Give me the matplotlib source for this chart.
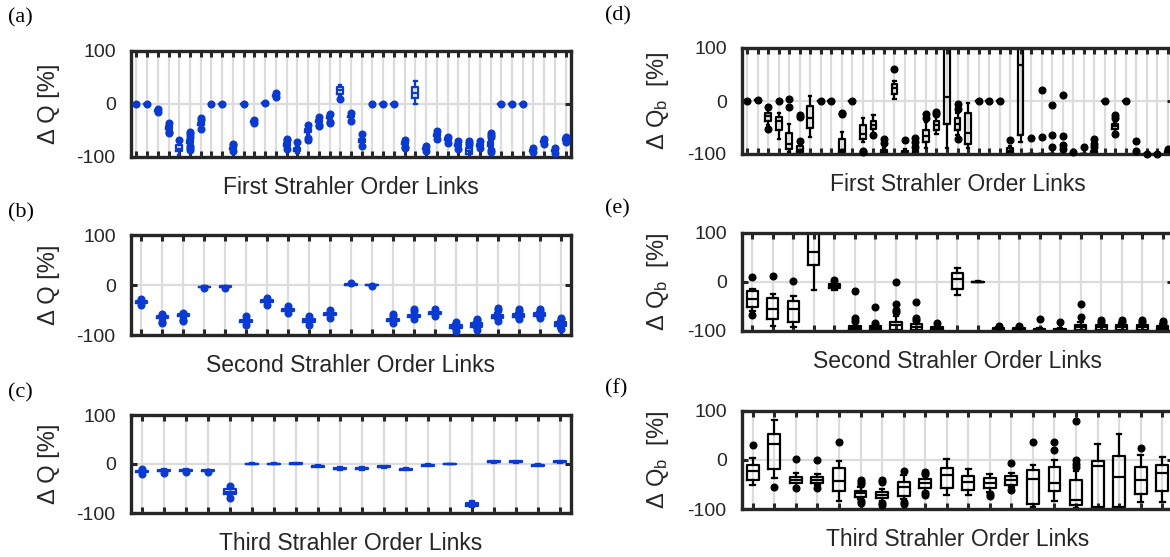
import matplotlib

matplotlib.use("Agg")

import matplotlib.pyplot as plt

plt.rcParams["font.family"] = ["Liberation Sans", "DejaVu Sans"]
plt.rcParams["mathtext.fontset"] = "custom"
plt.rcParams["mathtext.rm"] = "Liberation Sans"
plt.rcParams["mathtext.it"] = "Liberation Sans"

W, H = 1170, 557
BLUE = "#0a3ad6"
BLACK = "#000000"
INK = "#262626"

# box statistics per link: (whisker low, q1, median, q3, whisker high)
stats_a = [
    (0, 0, 0, 0, 0), (0, 0, 0, 0, 0), (-15, -14, -13, -12, -11), (-50, -47, -45, -42, -39),
    (-97, -90, -85, -78, -72), (-78, -75, -72, -69, -65), (-43, -40, -38, -36, -33),
    (0, 0, 0, 0, 0), (0, 0, 0, 0, 0), (-88, -86, -85, -83, -80), (0, 0, 0, 0, 0),
    (-36, -35, -34, -33, -32), (2, 2, 2, 2, 2), (14, 15, 16, 17, 18), (-83, -80, -77, -74, -71),
    (-93, -89, -86, -84, -82), (-58, -54, -51, -48, -44), (-37, -35, -33, -31, -29),
    (-29, -27, -26, -24, -22), (15, 19, 26, 32, 35), (-28, -26, -25, -23, -21),
    (-75, -72, -70, -66, -62), (0, 0, 0, 0, 0), (0, 0, 0, 0, 0), (0, 0, 0, 0, 0),
    (-78, -76, -75, -73, -71), (0, 10, 20, 31, 42), (-88, -86, -85, -84, -82),
    (-63, -61, -60, -58, -56), (-70, -68, -67, -65, -63), (-82, -80, -78, -76, -74),
    (-100, -94, -89, -84, -81), (-82, -80, -78, -76, -74), (-82, -79, -76, -72, -68),
    (0, 0, 0, 0, 0), (0, 0, 0, 0, 0), (0, 0, 0, 0, 0), (-91, -89, -88, -87, -85),
    (-75, -73, -72, -71, -69), (-91, -89, -88, -87, -85), (-70, -68, -67, -65, -63),
]
fliers_a = [
    [0], [0], [-10, -16], [-36, -53, -55], [-68], [-53, -58, -62, -80, -84, -87], [-27, -30, -47],
    [0], [0], [-76, -78, -90], [0], [-31, -37], [2], [13, 20], [-66, -68, -86], [-73],
    [-41, -65, -68], [-26, -40, -43], [-19, -34, -37], [8], [-18, -32], [-58, -80],
    [0], [0], [0], [-68, -82, -84], [], [-80, -90], [-52, -67], [-62, -74], [-70, -86],
    [-70, -74, -78], [-70, -84], [-55, -59, -63, -88, -92], [0], [0], [0], [-84, -92],
    [-67, -77], [-83, -93], [-62, -72],
]

stats_b = [
    (-38, -35, -33, -31, -29), (-70, -66, -64, -62, -60), (-65, -62, -60, -58, -56),
    (-4, -3, -3, -3, -2), (-4, -3, -3, -2, -2), (-77, -74, -72, -69, -66),
    (-36, -34, -32, -30, -28), (-53, -51, -50, -48, -46), (-76, -74, -70, -67, -64),
    (-62, -60, -58, -56, -54), (0, 1, 1, 2, 3), (-1, 0, 0, 0, 1), (-73, -71, -70, -68, -66),
    (-65, -63, -61, -59, -57), (-59, -57, -55, -53, -51), (-88, -85, -82, -80, -78),
    (-86, -83, -79, -76, -73), (-68, -66, -63, -59, -55), (-65, -63, -60, -58, -55),
    (-63, -61, -58, -56, -53), (-85, -82, -78, -74, -71),
]
fliers_b = [
    [-27, -40], [-58, -73, -75], [-55, -69, -72], [-5], [-5], [-61, -79], [-25, -40],
    [-42, -55], [-62, -79], [-50, -65], [4], [-2], [-57, -61, -75], [-48, -52, -68],
    [-48, -62], [-74, -91], [-67, -70, -90], [-45, -50, -71], [-48, -52, -67],
    [-48, -52, -66], [-65, -68, -88],
]

stats_c = [
    (-18, -16, -15, -14, -12), (-17, -15, -14, -13, -11), (-16, -14, -13, -12, -10),
    (-16, -15, -14, -13, -12), (-66, -62, -57, -52, -48), (-1, 0, 1, 1, 2), (-1, 0, 0, 1, 2),
    (0, 1, 1, 2, 3), (-7, -6, -5, -4, -3), (-13, -11, -10, -9, -7), (-12, -10, -9, -8, -6),
    (-8, -7, -6, -5, -4), (-13, -12, -11, -10, -8), (-5, -4, -3, -2, -1), (-1, -1, 0, 0, 0),
    (-88, -86, -83, -79, -75), (3, 4, 5, 6, 7), (3, 4, 5, 6, 7), (-5, -4, -3, -2, -1),
    (3, 4, 5, 6, 7),
]
fliers_c = [
    [-11, -20], [-18], [-17], [-17], [-45, -69], [], [], [], [], [], [], [], [], [], [],
    [], [], [], [], [],
]

stats_d = [
    (0, 0, 0, 0, 0), (2, 2, 2, 2, 2), (-45, -37, -29, -22, -16), (-72, -55, -38, -30, -22),
    (-97, -91, -81, -60, -43), (-100, -97, -92, -84, -80), (-68, -50, -32, -10, 10),
    (0, 0, 0, 0, 0), (0, 0, 0, 0, 0), (-100, -97, -92, -71, -58), (0, 0, 0, 0, 0),
    (-78, -72, -62, -45, -32), (-62, -52, -45, -37, -27), (-100, -98, -95, -92, -88),
    (3, 13, 24, 33, 38), (-100, -99, -97, -94, -90), (-100, -98, -95, -92, -88),
    (-88, -78, -66, -55, -40), (-62, -55, -45, -37, -28), (-88, -44, 8, 120, 150),
    (-65, -55, -44, -33, -22), (-88, -82, -60, -22, -3), (0, 0, 0, 0, 0), (0, 0, 0, 0, 0),
    (0, 0, 0, 0, 0), (-100, -99, -95, -88, -85), (-78, -65, 68, 120, 150),
    (-100, -100, -100, -100, -100), (-100, -100, -100, -100, -100),
    (-100, -100, -100, -100, -100), (-100, -100, -100, -100, -100),
    (-100, -100, -100, -100, -100), (-100, -100, -100, -100, -100),
    (-100, -99, -97, -95, -92), (0, 0, 0, 0, 0), (-58, -53, -48, -44, -40), (0, 0, 0, 0, 0),
    (-100, -100, -100, -100, -100), (-100, -100, -100, -100, -100),
    (-100, -100, -100, -100, -100), (-100, -99, -97, -95, -92),
]
fliers_d = [
    [0], [2], [-12, -52], [0], [3, -12], [-26, -31, -76], [], [0], [0], [-22, -25], [0],
    [-95, -97], [-65], [-72, -80], [60], [-74], [-70, -78, -86], [-25, -32], [-20, -24],
    [], [-6, -15, -71], [], [0], [0], [0], [-74], [], [-70], [20, -68], [-7, -64, -86],
    [12, -66, -83, -90], [-97], [-86], [-71, -81, -87], [0], [-27, -33, -63], [0],
    [-75, -95], [-100], [-100], [-90],
]

stats_e = [
    (-60, -51, -36, -18, -14), (-90, -77, -56, -34, -25), (-93, -82, -56, -39, -30),
    (-17, 34, 60, 120, 150), (-16, -13, -8, -4, 0), (-100, -98, -95, -90, -85),
    (-100, -98, -95, -90, -87), (-100, -99, -88, -82, -70), (-100, -99, -92, -86, -80),
    (-100, -99, -96, -93, -90), (-28, -15, 5, 17, 28), (-1, 0, 0, 0, 1),
    (-100, -99, -97, -95, -92), (-100, -99, -96, -94, -92), (-100, -99, -98, -97, -95),
    (-100, -99, -98, -97, -95), (-100, -99, -93, -88, -83), (-100, -98, -93, -88, -84),
    (-100, -98, -93, -88, -84), (-100, -98, -93, -88, -84), (-100, -98, -95, -90, -86),
]
fliers_e = [
    [10, -68], [12], [1], [], [3], [-19, -75, -80], [-51, -85], [-1, -46, -58, -62],
    [-41, -75, -78], [-84], [], [], [-90], [-90], [-77], [-82], [-45, -73], [-78, -82],
    [-78, -82], [-78, -82], [-80, -84],
]

stats_f = [
    (-52, -42, -22, -10, 3), (-36, -19, 32, 53, 82), (-55, -48, -41, -35, -26),
    (-52, -48, -42, -35, -28), (-83, -64, -43, -17, -3), (-80, -75, -68, -63, -55),
    (-83, -78, -72, -66, -60), (-80, -74, -56, -45, -30), (-65, -58, -48, -38, -30),
    (-72, -57, -30, -16, 1), (-72, -62, -45, -33, -19), (-65, -58, -47, -36, -29),
    (-55, -51, -41, -33, -26), (-96, -89, -39, -20, -10), (-84, -64, -47, -14, 0),
    (-97, -92, -81, -41, -22), (-98, -96, -13, -2, 33), (-98, -96, -34, 7, 53),
    (-85, -70, -41, -14, 9), (-85, -64, -27, -11, 5),
]
fliers_f = [
    [31], [-55], [2, -57], [0, -58], [36], [-42, -46, -49, -84, -88], [-42, -46, -87, -91],
    [-22, -85, -90], [-24, -28, -68, -72], [], [], [-70, -74], [-7, -61], [37], [37, 20],
    [80, 0, -9, -14], [], [], [24], [],
]

# tag, stats, fliers, colour, x label, axes box in px (left, right, top, bottom), tag y
PANELS = [
    ("(a)", stats_a, fliers_a, BLUE, "First Strahler Order Links", (131, 571, 50.5, 156.7), 18),
    ("(b)", stats_b, fliers_b, BLUE, "Second Strahler Order Links", (131, 571, 235, 335), 213),
    ("(c)", stats_c, fliers_c, BLUE, "Third Strahler Order Links", (131, 571, 415, 513), 393),
    ("(d)", stats_d, fliers_d, BLACK, "First Strahler Order Links", (742, 1173, 48, 154), 16),
    ("(e)", stats_e, fliers_e, BLACK, "Second Strahler Order Links", (742, 1173, 232.7, 330.7), 209),
    ("(f)", stats_f, fliers_f, BLACK, "Third Strahler Order Links", (742, 1173, 410.7, 509), 389),
]


def px_rect(x0, x1, top, bottom):
    return [x0 / W, 1 - bottom / H, (x1 - x0) / W, (bottom - top) / H]


def draw_panel(fig, tag, stats, fliers, color, xlabel, box, tag_y):
    ax = fig.add_axes(px_rect(*box))
    n = len(stats)
    pos = list(range(1, n + 1))
    bxp_stats = [
        dict(whislo=s[0], q1=s[1], med=s[2], q3=s[3], whishi=s[4], fliers=f)
        for s, f in zip(stats, fliers)
    ]
    lw = 1.6
    arts = ax.bxp(
        bxp_stats,
        positions=pos,
        widths=0.55,
        capwidths=0.22,
        manage_ticks=False,
        boxprops=dict(color=color, lw=lw),
        medianprops=dict(color=color, lw=lw),
        whiskerprops=dict(color=color, lw=lw),
        capprops=dict(color=color, lw=lw),
        flierprops=dict(marker="o", markerfacecolor=color, markeredgecolor=color,
                        markersize=4.8, linestyle="none"),
    )
    for fl in arts["fliers"]:
        fl.set_clip_on(False)
        fl.set_zorder(4)

    ax.set_xlim(0.5, n + 0.5)
    ax.set_ylim(-100, 100)
    ax.set_xticks(pos)
    ax.set_yticks([-100, 0, 100])
    ax.set_yticklabels(["-100", "0", "100"])
    ax.tick_params(axis="x", labelbottom=False)
    ax.tick_params(direction="in", top=True, right=True, length=4, width=2.2,
                   color=INK, labelcolor=INK, labelsize=14, pad=11)
    ax.grid(True, color="#dcdcdc", lw=1.6)
    ax.set_axisbelow(True)
    for sp in ax.spines.values():
        sp.set_linewidth(2.4)
        sp.set_color(INK)

    if color == BLUE:
        ylabel = "\u0394 Q [%]"
    else:
        ylabel = "\u0394 Q$_\\mathrm{b}$  [%]"
    ax.set_ylabel(ylabel, fontsize=17, labelpad=12, color=INK)
    ax.set_xlabel(xlabel, fontsize=16.5, labelpad=14, color=INK)

    x_tag = 8 if box[0] < 600 else 605
    fig.text(x_tag / W, 1 - tag_y / H, tag, family="Liberation Serif",
             fontsize=16, ha="left", va="center")
    return ax


fig = plt.figure(figsize=(W / 100, H / 100), dpi=100)
for tag, stats, fliers, color, xlabel, box, tag_y in PANELS:
    draw_panel(fig, tag, stats, fliers, color, xlabel, box, tag_y)

fig.savefig("out.png", dpi=100)
